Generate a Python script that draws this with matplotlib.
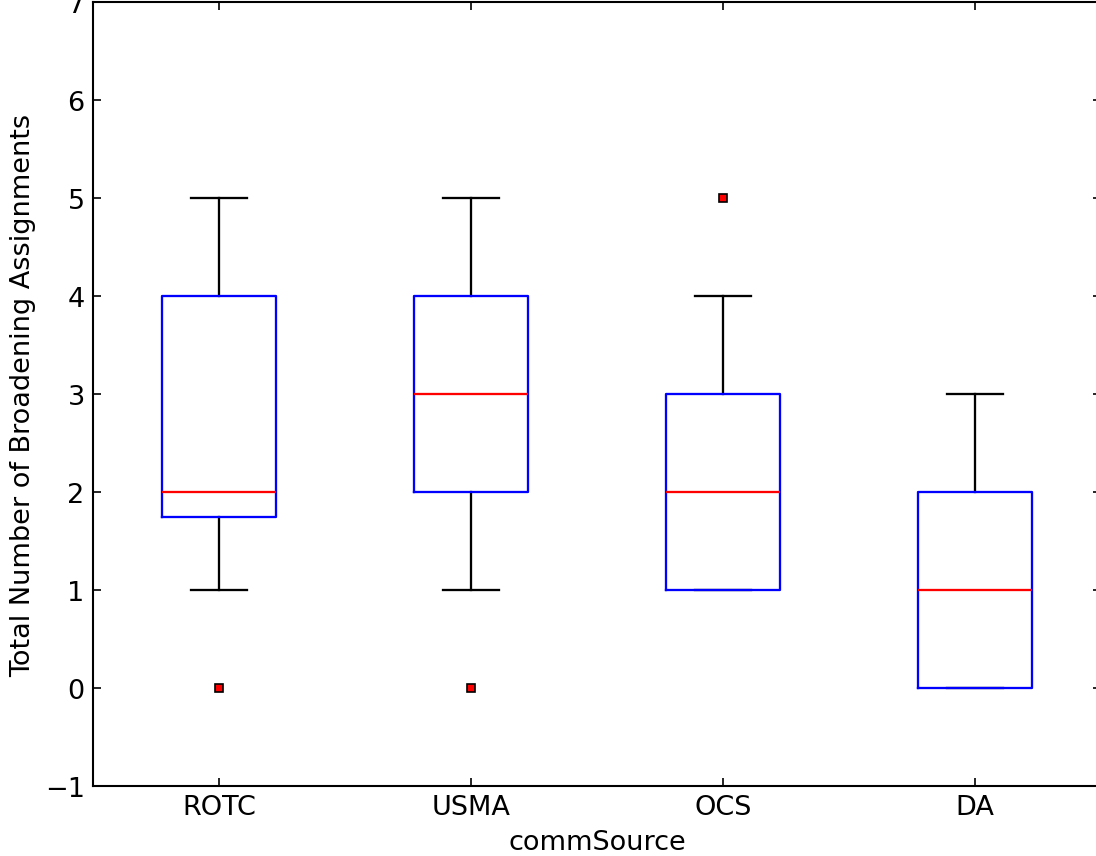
import matplotlib
matplotlib.use("Agg")
from matplotlib import pyplot as plt

# box statistics per commissioning source
sources = ["ROTC", "USMA", "OCS", "DA"]
medians = [2, 3, 2, 1]
q1s = [1.75, 2, 1, 0]
q3s = [4, 4, 3, 2]
whis_lo = [1, 1, 1, 0]
whis_hi = [5, 5, 4, 3]
fliers = [[0], [0], [5], []]

DPI = 150
W, H = 1096, 857
FONT_SIZE = 13

stats = [
    dict(label=s, med=m, q1=a, q3=b, whislo=lo, whishi=hi, fliers=f)
    for s, m, a, b, lo, hi, f in zip(sources, medians, q1s, q3s, whis_lo, whis_hi, fliers)
]

fig = plt.figure(figsize=(W / DPI, H / DPI), dpi=DPI)
# the original figure is cropped: top label "7" and right spine fall off the edge
ax = fig.add_axes([93 / W, (H - 787) / H, (1101 - 93) / W, (787 - 3) / H])

bp = ax.bxp(
    stats,
    widths=0.45,
    boxprops=dict(color="blue", linewidth=1.1),
    medianprops=dict(color="red", linewidth=1.1),
    whiskerprops=dict(color="black", linewidth=1.1, linestyle="-"),
    capprops=dict(color="black", linewidth=1.1),
    flierprops=dict(marker="s", markerfacecolor="red", markeredgecolor="black",
                    markersize=3.4, markeredgewidth=0.8, linestyle="none"),
)
# box outline sits on top of caps/whiskers, as in the original
for art in bp["caps"] + bp["whiskers"]:
    art.set_zorder(1.5)
for art in bp["boxes"]:
    art.set_zorder(3)
for art in bp["medians"]:
    art.set_zorder(4)

ax.set_xlim(0.5, 4.5)
ax.set_ylim(-1, 7)
ax.set_yticks(range(-1, 8))
ax.tick_params(axis="both", direction="in", length=4, width=0.8, labelsize=FONT_SIZE,
               top=True, right=True, pad=4)
ax.set_xlabel("commSource", fontsize=FONT_SIZE)
ax.set_ylabel("Total Number of Broadening Assignments", fontsize=FONT_SIZE)
for sp in ax.spines.values():
    sp.set_linewidth(1.0)

fig.savefig("out.png", dpi=DPI)
